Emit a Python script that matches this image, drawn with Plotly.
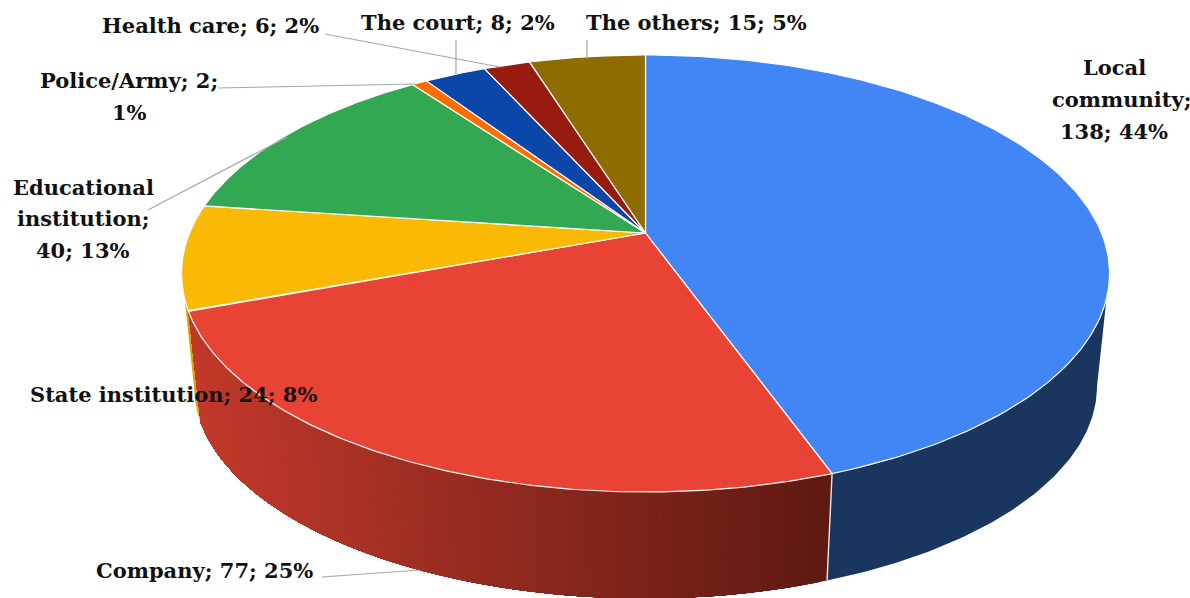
import numpy as np
import plotly.graph_objects as go

categories = ["Local community", "Company", "State institution", "Educational institution",
              "Police/Army", "The court", "Health care", "The others"]
values = [138, 77, 24, 40, 2, 8, 6, 15]
top_colors = ["#4285F4", "#E94335", "#F9B904", "#33A853", "#FF6D01", "#0B47A8", "#981B10", "#8F6C00"]

FONT = "DejaVu Serif"
FS = 21
CX, CY = 645.5, 233
F, G, K = 456, 211, 0.1854
S_B, CY_B = 0.973, 346.5


def project(theta, bottom=False):
    X, Y = np.sin(theta), np.cos(theta)
    w = 1 + K * Y
    s = S_B if bottom else 1.0
    cy = CY_B if bottom else CY
    return CX + s * F * X / w, cy - s * G * Y / w


def mix(a, b, t):
    t = min(max(t, 0), 1)
    return "rgb(%d,%d,%d)" % tuple(a[i] + (b[i] - a[i]) * t for i in range(3))


edges = np.concatenate([[0], np.cumsum(values)]) / sum(values) * 2 * np.pi
fig = go.Figure()


def poly(x, y, fill, line="rgba(0,0,0,0)", width=0):
    fig.add_trace(go.Scatter(x=list(x), y=list(y), mode="lines", fill="toself", fillcolor=fill,
                             line=dict(color=line, width=width), hoverinfo="skip", showlegend=False))


def wall(top_a, top_b, bot_a, bot_b, fill):
    xt, yt = project(np.linspace(top_a, top_b, 80))
    xb, yb = project(np.linspace(bot_b, bot_a, 80), True)
    poly(np.r_[xt, xb], np.r_[yt, yb], fill)


# side walls: blue, then the thin yellow sliver, then red as nested shrinking polygons
wall(np.radians(107), edges[1], np.radians(100.8), edges[1], "#1A365F")
wall(edges[2], np.radians(252.7), edges[2], np.radians(259), "#DCA308")
steps = np.linspace(edges[1], edges[2], 121)
for t0 in steps[:-1]:
    x0, _ = project(t0)
    shade = mix((95, 26, 18), (193, 57, 43), (830 - x0) / 630)
    th = np.linspace(t0, edges[2], 60)
    xt, yt = project(th)
    xb, yb = project(th, True)
    poly(np.r_[xt, xb[::-1]], np.r_[yt, yb[::-1]], shade)

# divider on the front wall
xa, ya = project(edges[1])
xb_, yb_ = project(edges[1], True)
fig.add_trace(go.Scatter(x=[xa, xb_], y=[ya, yb_], mode="lines", line=dict(color="#E8E8E8", width=1.4),
                         hoverinfo="skip", showlegend=False))

# top face
for i, col in enumerate(top_colors):
    th = np.linspace(edges[i], edges[i + 1], 160)
    x, y = project(th)
    poly(np.r_[CX, x, CX], np.r_[CY, y, CY], col, "#FFFFFF", 1.2)

# leader lines
leaders = [
    ((325, 34), (500, 67)),
    ((456, 40), (456, 74)),
    ((587, 40), (587, 57)),
    ((218, 88), (415, 84)),
    ((148, 210), (287, 137)),
    ((322, 577), (420, 570)),
]
for p, q in leaders:
    fig.add_trace(go.Scatter(x=[p[0], q[0]], y=[p[1], q[1]], mode="lines",
                             line=dict(color="#A6A6A6", width=1.2), hoverinfo="skip", showlegend=False))

labels = [
    ("Local", 1114, 67), ("community;", 1121, 99), ("138; 44%", 1114, 131),
    ("Health care; 6; 2%", 210, 25), ("The court; 8; 2%", 458, 22), ("The others; 15; 5%", 696, 22),
    ("Police/Army; 2;", 129, 80), ("1%", 129, 112),
    ("Educational", 83, 187), ("institution;", 83, 218), ("40; 13%", 83, 250),
    ("State institution; 24; 8%", 173, 394),
    ("Company; 77; 25%", 204, 570),
]
for text, x, y in labels:
    fig.add_annotation(x=x, y=y, text="<b>%s</b>" % text, showarrow=False, xanchor="center", yanchor="middle",
                       font=dict(family=FONT, size=FS, color="#111111"))

fig.update_layout(
    width=1190, height=598, margin=dict(l=0, r=0, t=0, b=0), paper_bgcolor="white", plot_bgcolor="white",
    showlegend=False,
    xaxis=dict(range=[0, 1190], visible=False, fixedrange=True),
    yaxis=dict(range=[598, 0], visible=False, fixedrange=True),
)
fig.write_html("out.html", config=dict(displayModeBar=False),
               post_script="document.body.style.margin='0';document.body.style.overflow='hidden';")
